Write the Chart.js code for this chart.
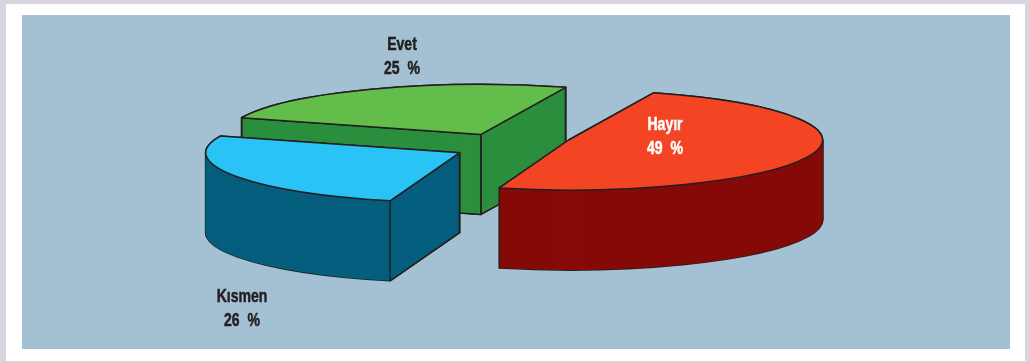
<!DOCTYPE html>
<html>
<head>
<meta charset="utf-8">
<style>
    html, body { margin: 0; padding: 0; }
    body { width: 1029px; height: 362px; background: #d7d5e0; overflow: hidden; position: relative; }
    #sheet { position: absolute; left: 6px; top: 4px; width: 1019px; height: 357px; background: #ffffff; }
    #panel { position: absolute; left: 22px; top: 15px; width: 988px; height: 334px; background: #a3c1d2; }
    #pie { position: absolute; left: 0; top: 0; }
</style>
<script src="https://cdn.jsdelivr.net/npm/chart.js@4"></script>
</head>
<body>
<div id="sheet"></div>
<div id="panel"></div>
<canvas id="pie" width="1029" height="362"></canvas>
<script>
var categories = ['Hayır', 'Kısmen', 'Evet'];
var percents = [49, 26, 25];

var topColors = ['#f34423', '#29c3f6', '#62bd4a'];
var wallColors = ['#850a08', '#055e7d', '#2b8f3e'];
var labelColors = ['#ffffff', '#231f20', '#231f20'];
var labelSpots = [[665, 125], [242, 297], [402, 45]];

// how far each slice is pulled out of the pie, and a small extra lift
var explode = [50, 69, 93];
var lift = [-11, -1.5, 3];

var squash = 0.197;
var depth = 80;
var outline = '#231f20';

function drawLabel(ctx, text, x, y, color) {
    ctx.save();
    ctx.translate(x, y);
    ctx.scale(0.78, 1);
    ctx.fillStyle = color;
    ctx.strokeStyle = color;
    ctx.lineWidth = 0.5;
    ctx.fillText(text, 0, 0);
    ctx.strokeText(text, 0, 0);
    ctx.restore();
}

var pie3d = {
    id: 'pie3d',

    beforeDatasetDraw: function (chart, args) {
        var ctx = chart.ctx;
        var arcs = args.meta.data;

        function place(i) {
            var el = arcs[i];
            var mid = (el.startAngle + el.endAngle) / 2;
            return {
                x: el.x + Math.cos(mid) * explode[i],
                y: el.y + Math.sin(mid) * explode[i] * squash + lift[i]
            };
        }

        function fillFace(i, color, drop) {
            var el = arcs[i];
            var base = el.options;
            var p = place(i);
            el.options = Object.assign({}, base, { backgroundColor: color, borderWidth: 0 });
            ctx.save();
            ctx.translate(p.x, p.y + drop);
            ctx.scale(1, squash);
            ctx.translate(-el.x, -el.y);
            el.draw(ctx);
            ctx.restore();
            el.options = base;
        }

        function strokeFace(i, drop) {
            var el = arcs[i];
            var p = place(i);
            ctx.beginPath();
            ctx.moveTo(p.x, p.y + drop);
            ctx.ellipse(p.x, p.y + drop, el.outerRadius, el.outerRadius * squash, 0, el.startAngle, el.endAngle);
            ctx.closePath();
            ctx.stroke();
        }

        function strokeWall(i, angle) {
            var el = arcs[i];
            var p = place(i);
            var rx = p.x + Math.cos(angle) * el.outerRadius;
            var ry = p.y + Math.sin(angle) * el.outerRadius * squash;
            ctx.beginPath();
            ctx.moveTo(p.x, p.y);
            ctx.lineTo(rx, ry);
            ctx.lineTo(rx, ry + depth);
            ctx.lineTo(p.x, p.y + depth);
            ctx.closePath();
            ctx.stroke();
        }

        ctx.save();
        ctx.strokeStyle = outline;
        ctx.lineWidth = 1.5;
        ctx.lineJoin = 'round';

        // back slice first so the nearer ones overlap it
        [2, 1, 0].forEach(function (i) {
            var el = arcs[i];
            var d;
            for (d = depth; d >= 0; d--) strokeFace(i, d);
            for (d = depth; d >= 0; d--) fillFace(i, wallColors[i], d);
            if (Math.cos(el.startAngle) < 0) strokeWall(i, el.startAngle);
            if (Math.cos(el.endAngle) > 0) strokeWall(i, el.endAngle);
            fillFace(i, topColors[i], 0);
            strokeFace(i, 0);
        });
        ctx.restore();

        ctx.save();
        ctx.font = 'bold 18px "Liberation Sans", sans-serif';
        ctx.textAlign = 'center';
        ctx.textBaseline = 'middle';
        ctx.wordSpacing = '5px';
        categories.forEach(function (name, i) {
            drawLabel(ctx, name, labelSpots[i][0], labelSpots[i][1], labelColors[i]);
            drawLabel(ctx, percents[i] + ' %', labelSpots[i][0], labelSpots[i][1] + 24, labelColors[i]);
        });
        ctx.restore();

        return false;
    }
};

new Chart(document.getElementById('pie'), {
    type: 'pie',
    data: {
        labels: categories,
        datasets: [{
            data: percents,
            backgroundColor: topColors,
            borderWidth: 0
        }]
    },
    options: {
        responsive: false,
        animation: false,
        rotation: 19.5,
        radius: 254,
        layout: { padding: { left: 13, bottom: 66 } },
        plugins: {
            legend: { display: false },
            tooltip: { enabled: false }
        }
    },
    plugins: [pie3d]
});
</script>
</body>
</html>
